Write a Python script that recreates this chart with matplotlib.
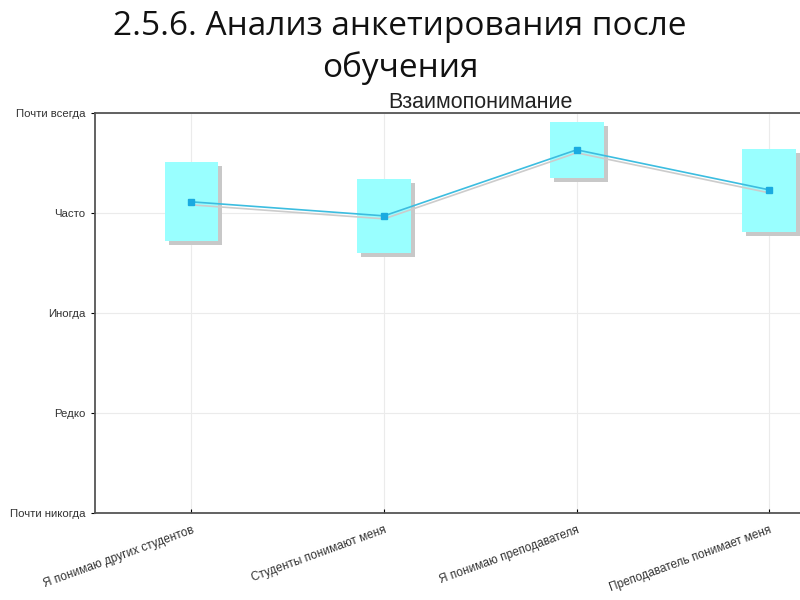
import matplotlib
matplotlib.use("Agg")
import matplotlib.pyplot as plt
import matplotlib.transforms as mtransforms
from matplotlib.patches import Rectangle

plt.rcParams['font.family'] = ['Liberation Sans', 'DejaVu Sans']

categories = ["Я понимаю других студентов", "Студенты понимают меня",
              "Я понимаю преподавателя", "Преподаватель понимает меня"]
means = [3.11, 2.97, 3.63, 3.23]
upper = [3.51, 3.34, 3.91, 3.64]
lower = [2.72, 2.60, 3.35, 2.81]
levels = ["Почти никогда", "Редко", "Иногда", "Часто", "Почти всегда"]

fig = plt.figure(figsize=(8, 6), dpi=100)
ax = fig.add_axes([0.119, 0.145, 0.881, 0.667])

x = list(range(len(categories)))
box_w = 0.28
shadow = mtransforms.offset_copy(ax.transData, fig=fig, x=4, y=-4, units='dots')

for xi, lo, hi in zip(x, lower, upper):
    ax.add_patch(Rectangle((xi - box_w / 2, lo), box_w, hi - lo, facecolor='#c8c8c8',
                           edgecolor='none', transform=shadow, zorder=2))
    ax.add_patch(Rectangle((xi - box_w / 2, lo), box_w, hi - lo, facecolor='#99ffff',
                           edgecolor='none', zorder=3))

ax.plot(x, means, color='#cccccc', lw=1.2, transform=mtransforms.offset_copy(
    ax.transData, fig=fig, x=0, y=-3, units='dots'), zorder=4)
ax.plot(x, means, color='#3cbde0', lw=1.2, marker='s', markersize=4,
        markerfacecolor='#1aaae0', markeredgecolor='#1aaae0', zorder=5)

ax.set_xlim(-0.5, 3.16)
ax.set_ylim(0, 4)
ax.set_yticks(range(len(levels)))
ax.set_yticklabels(levels, fontsize=8.2, color='#333333')
ax.set_xticks(x)
ax.set_xticklabels(categories, fontsize=8.5, color='#333333', rotation=20,
                   ha='right', rotation_mode='anchor')
ax.tick_params(axis='x', direction='in', length=3, pad=8)
ax.tick_params(axis='y', direction='out', length=3, pad=4)
ax.grid(True, color='#ebebeb', lw=0.8, zorder=0)
ax.set_axisbelow(True)
for s in ['left', 'bottom', 'top']:
    ax.spines[s].set_color('#555555')
    ax.spines[s].set_linewidth(1.3)
ax.spines['right'].set_visible(False)

ax.set_title("Взаимопонимание", fontsize=15.5, color='#222222', pad=3, x=0.546)

fig.text(0.5, 0.983, "2.5.6. Анализ анкетирования после\nобучения",
         ha='center', va='top', fontsize=24, linespacing=1.3,
         family=['Open Sans', 'DejaVu Sans'], color='#111111')

fig.savefig("out.png", dpi=100)
